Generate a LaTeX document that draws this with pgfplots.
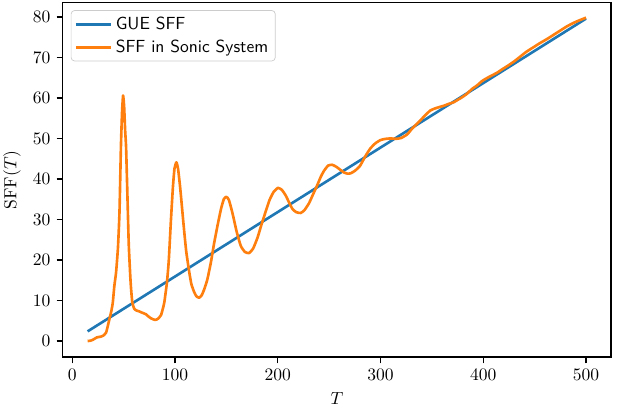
\documentclass[border=0pt]{standalone}
\usepackage{pgfplots}
\pgfplotsset{compat=1.18}
\definecolor{tabblue}{HTML}{1F77B4}
\definecolor{taborange}{HTML}{FF7F0E}

\begin{document}
\begin{tikzpicture}
\begin{axis}[
  scale only axis,
  width=313pt, height=202.5pt,
  xmin=-9.25, xmax=524.25,
  ymin=-3.98, ymax=83.56,
  xtick={0,100,...,500},
  ytick={0,10,...,80},
  tick align=outside,
  xtick pos=left, ytick pos=left,
  major tick length=3.5pt,
  axis line style={line width=0.8pt},
  every tick/.style={black, line width=0.8pt},
  xlabel={$T$},
  ylabel={$\mathrm{SFF}(T)$},
  legend cell align=left,
  legend style={at={(0,1)}, anchor=north west, xshift=4.6pt, yshift=-4.4pt,
    draw=black!20, rounded corners=2pt, font=\sffamily,
    inner xsep=2pt, inner ysep=1.5pt, row sep=0.5pt},
  legend image code/.code={\draw[#1, line width=1.5pt] (0pt,0pt) -- (20pt,0pt);},
]
% Gaussian unitary ensemble ramp, T/(2 pi)
\addplot[tabblue, line width=1.5pt] coordinates {
  (15,2.387) (100,15.915) (200,31.831) (300,47.746) (400,63.662) (500,79.577)
};
\addlegendentry{GUE SFF}

% spectral form factor of the sonic system
\addplot[taborange, line width=1.5pt, line join=round, smooth, tension=0.3] coordinates {
  (15,0.0) (18,0.1) (20,0.3) (22,0.6) (24,0.9) (26,1.0) (28,1.1) (30,1.3)
  (33,2.1) (36.2,5.4) (38,7.3) (39.5,9.5) (41,13.6) (42.7,17) (44.5,23)
  (46,31.8) (47.4,48) (48.5,56.5) (49.5,60.6) (50.5,58) (51.5,52) (52.4,48)
  (53.5,38) (55,24) (56.5,16) (57.3,12.8) (58.5,9.5) (60.5,7.9) (63,7.5)
  (65.3,7.3) (68,7.0) (71.8,6.6) (74,6.1) (76.7,5.6) (80.6,5.2) (83.5,5.5)
  (86.4,6.4) (88,7.8) (89.6,9.5) (92.2,14.5) (94,20) (96.1,30) (98,38)
  (99.5,42.5) (101.4,44.1) (103,42.5) (105,38) (107,32.5) (109,27) (111,22)
  (113.9,17) (116,14) (118.8,12) (121,11) (123.6,10.7) (126,11.3)
  (128.5,12.8) (131.5,15.2) (135,19.5) (138,24) (141.4,28.5) (144.7,32.5)
  (147.5,35) (150,35.6) (152.5,34.8) (156,31.5) (160,27) (164,23.5)
  (168,22) (172,21.7) (176,22.8) (180.3,25.5) (184,28.6) (188.3,32)
  (192,34.8) (196,36.8) (200.3,37.8) (204,37.3) (207.8,35.9) (211,34.2)
  (214.3,32.6) (218,31.8) (222.3,31.6) (226,32.3) (230.4,34) (234,36)
  (238.5,38.5) (242,40.6) (245,42) (249,43.3) (253,43.5) (257,43.0)
  (261.2,42.2) (264.5,41.6) (268,41.3) (271,41.4) (275,42.0) (280,43.2)
  (285,45.5) (290,47.5) (295,48.8) (300,49.6) (305,49.9) (310,50.0)
  (315,49.9) (320,50.1) (326,51.0) (330,52.2) (335,53.5) (339,54.5)
  (343,55.6) (348.5,56.9) (353,57.4) (358,57.8) (362,58.1) (366,58.5)
  (371,58.9) (375,59.5) (379,60.1) (384,61.0) (389,62.2) (394,63.1)
  (399,64.2) (403.6,64.9) (408,65.5) (413.3,66.2) (418,67.0) (423,67.8)
  (430,69.0) (436,70.2) (442,71.4) (448.8,72.5) (455,73.5) (461.8,74.5)
  (468,75.5) (474.8,76.6) (481,77.6) (487.7,78.5) (494,79.2) (500,79.8)
};
\addlegendentry{SFF in Sonic System}
\end{axis}
\pgfresetboundingbox
\path ([shift={(-35.8pt,-29.1pt)}]current axis.south west)
      rectangle ([shift={(6.3pt,1.4pt)}]current axis.north east);
\end{tikzpicture}
\end{document}
